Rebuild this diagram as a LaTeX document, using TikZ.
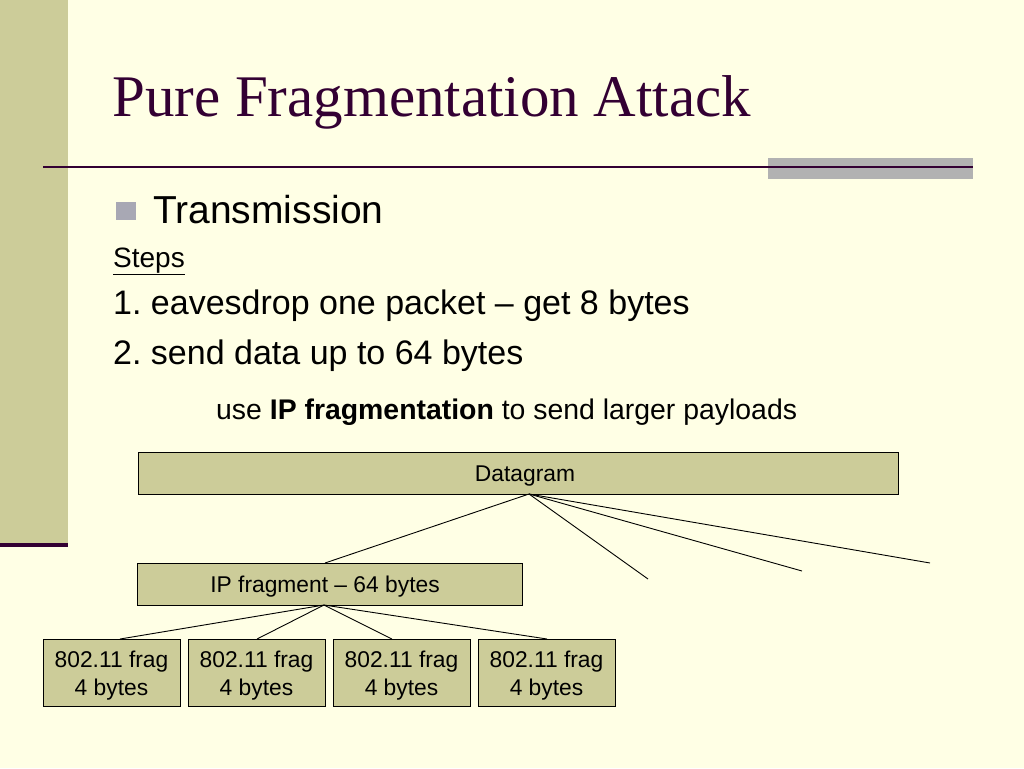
\documentclass[tikz,border=0pt]{standalone}
\usepackage{fontspec}
\setmainfont{Liberation Sans}
\newfontfamily\titlefont{Liberation Serif}
\frenchspacing
\definecolor{bgcream}{RGB}{255,255,229}
\definecolor{khaki}{RGB}{204,204,153}
\definecolor{darkplum}{RGB}{51,0,51}
\definecolor{bargray}{RGB}{178,178,178}
\definecolor{bulletgray}{RGB}{168,168,180}
\tikzset{
  boxnode/.style={draw=black, line width=1pt, fill=khaki, inner sep=0pt},
  boxtext/.style={inner sep=0pt, align=center, yshift=-3pt,
    font={\fontsize{22.8}{27.5}\selectfont}},
  txt/.style={anchor=base west, inner sep=0pt},
  conn/.style={draw=black, line width=0.9pt},
}
\begin{document}
\begin{tikzpicture}[x=1pt,y=-1pt]
\useasboundingbox (0,0) rectangle (1024,768);
\fill[bgcream] (0,0) rectangle (1024,768);
% sidebar
\fill[khaki] (0,0) rectangle (68,544);
\fill[darkplum] (0,543) rectangle (68,547);
% title rule
\fill[bargray] (768,158) rectangle (973,179);
\draw[darkplum, line width=2pt] (43,166.5) -- (973,166.5);
% title
\node[txt, text=darkplum] (title) at (112,116) {\titlefont\fontsize{59}{70}\selectfont Pure Fragmentation Attack};
% bullet
\fill[bulletgray] (116,202) rectangle (136,220);
\node[txt] (trans) at (153,223) {\fontsize{39}{46}\selectfont Transmission};
\node[txt] (steps) at (113,267) {\fontsize{28}{34}\selectfont \underline{Steps}};
\node[txt] (s1) at (113,314) {\fontsize{34}{40}\selectfont 1. eavesdrop one packet -- get 8 bytes};
\node[txt] (s2) at (113,364) {\fontsize{34}{40}\selectfont 2. send data up to 64 bytes};
\node[txt] (use) at (216,419) {\fontsize{28.4}{34}\selectfont use \textbf{IP fragmentation} to send larger payloads};
% boxes
\node[boxnode, minimum width=760, minimum height=42] (dg) at (518,473) {};
\node[boxtext] (dgt) at (525,473) {Datagram};
\node[boxnode, minimum width=385, minimum height=42] (ipf) at (329.5,584) {};
\node[boxtext] (ipft) at (325,584) {IP fragment -- 64 bytes};
\foreach \i/\x in {1/111.5,2/256.5,3/401.5,4/546.5}{
  \node[boxnode, minimum width=137, minimum height=67] (f\i) at (\x,672.5) {};
  \node[boxtext] (f\i t) at (\x,672.5) {802.11 frag\\4 bytes};
}
% connector points
\coordinate (dgb) at (529,494);
\coordinate (ipt) at (325,563);
\coordinate (e2) at (648,579);
\coordinate (e3) at (802,571);
\coordinate (e4) at (930,563);
\coordinate (ipb) at (324,605);
\coordinate (t1) at (120,639);
\coordinate (t2) at (257,639);
\coordinate (t3) at (392,639);
\coordinate (t4) at (547,639);
\draw[conn] (dgb) -- (ipt);
\draw[conn] (dgb) -- (e2);
\draw[conn] (dgb) -- (e3);
\draw[conn] (dgb) -- (e4);
\foreach \j in {1,2,3,4}{ \draw[conn] (ipb) -- (t\j); }
\end{tikzpicture}
\end{document}
